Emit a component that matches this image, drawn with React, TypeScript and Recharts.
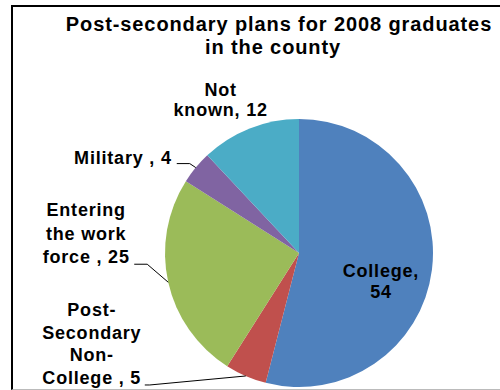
import { PieChart, Pie, Cell } from "recharts";

const categories = [
  "College",
  "Post-Secondary Non-College",
  "Entering the work force",
  "Military",
  "Not known",
];
const counts = [54, 5, 25, 4, 12];
const colors = ["#4F81BD", "#C0504D", "#9BBB59", "#8064A2", "#4BACC6"];
const labelLines = [
  ["College,", "54"],
  ["Post-", "Secondary", "Non-", "College , 5"],
  ["Entering", "the work", "force , 25"],
  ["Military , 4"],
  ["Not", "known, 12"],
];
const titleLines = ["Post-secondary plans for 2008 graduates", "in the county"];

const data = categories.map((name, i) => ({ name, value: counts[i] }));

const FONT = "'Liberation Sans', Arial, sans-serif";
const RAD = Math.PI / 180;

// label placement relative to the slice's outer edge at its mid angle
type Layout = {
  anchor: "start" | "middle" | "end";
  dx: number;
  dy: number;
  lh: number;
  leader?: [number, number][];
};
const LAYOUT: Layout[] = [
  { anchor: "middle", dx: -51, dy: 7, lh: 21 },
  { anchor: "middle", dx: -154, dy: -60, lh: 22.7, leader: [[0, 0], [-96, 9], [-101, 9]] },
  { anchor: "middle", dx: -82, dy: -66, lh: 23.5, leader: [[0, 0], [-21, -18], [-34, -18]] },
  { anchor: "end", dx: -24, dy: -4, lh: 20, leader: [[0, 0], [-6, -4], [-19, -4]] },
  { anchor: "middle", dx: -29, dy: -32, lh: 20 },
];

const renderLabel = (props: any) => {
  const { cx, cy, midAngle, outerRadius, index } = props;
  const ex = cx + outerRadius * Math.cos(-midAngle * RAD);
  const ey = cy + outerRadius * Math.sin(-midAngle * RAD);
  const lay = LAYOUT[index];
  return (
    <g key={`lbl-${index}`}>
      {lay.leader && (
        <polyline
          points={lay.leader.map(([x, y]) => `${ex + x},${ey + y}`).join(" ")}
          fill="none"
          stroke="#000"
          strokeWidth={1}
        />
      )}
      <text
        x={ex + lay.dx}
        y={ey + lay.dy}
        textAnchor={lay.anchor}
        fontFamily={FONT}
        fontWeight="bold"
        fontSize={18}
        letterSpacing={0.8}
        fill="#000"
      >
        {labelLines[index].map((t, j) => (
          <tspan key={j} x={ex + lay.dx} y={ey + lay.dy + j * lay.lh}>
            {t}
          </tspan>
        ))}
      </text>
    </g>
  );
};

export default function App() {
  return (
    <div
      style={{
        position: "absolute",
        left: 0,
        top: 0,
        width: 500,
        height: 390,
        overflow: "hidden",
        background: "#fff",
      }}
    >
      <div
        style={{
          position: "absolute",
          left: 11,
          top: 5,
          width: 520,
          height: 382,
          borderLeft: "2px solid #000",
          borderTop: "2px solid #000",
          borderBottom: "1px solid #bbb",
        }}
      />
      <div style={{ position: "absolute", left: 0, top: 0 }}>
        <PieChart width={500} height={390} margin={{ top: 0, right: 0, bottom: 0, left: 0 }}>
          <Pie
            data={data}
            dataKey="value"
            nameKey="name"
            cx={299}
            cy={253}
            outerRadius={134}
            startAngle={90}
            endAngle={-270}
            stroke="none"
            label={renderLabel}
            labelLine={false}
            isAnimationActive={false}
          >
            {data.map((d, i) => (
              <Cell key={d.name} fill={colors[i]} />
            ))}
          </Pie>
        </PieChart>
      </div>
      <svg
        width={500}
        height={390}
        style={{ position: "absolute", left: 0, top: 0, pointerEvents: "none" }}
      >
        <text x={279} y={31} textAnchor="middle" fontFamily={FONT} fontWeight="bold" fontSize={20} letterSpacing={0.9}>
          {titleLines[0]}
        </text>
        <text x={273} y={54} textAnchor="middle" fontFamily={FONT} fontWeight="bold" fontSize={20} letterSpacing={0.9}>
          {titleLines[1]}
        </text>
      </svg>
    </div>
  );
}
